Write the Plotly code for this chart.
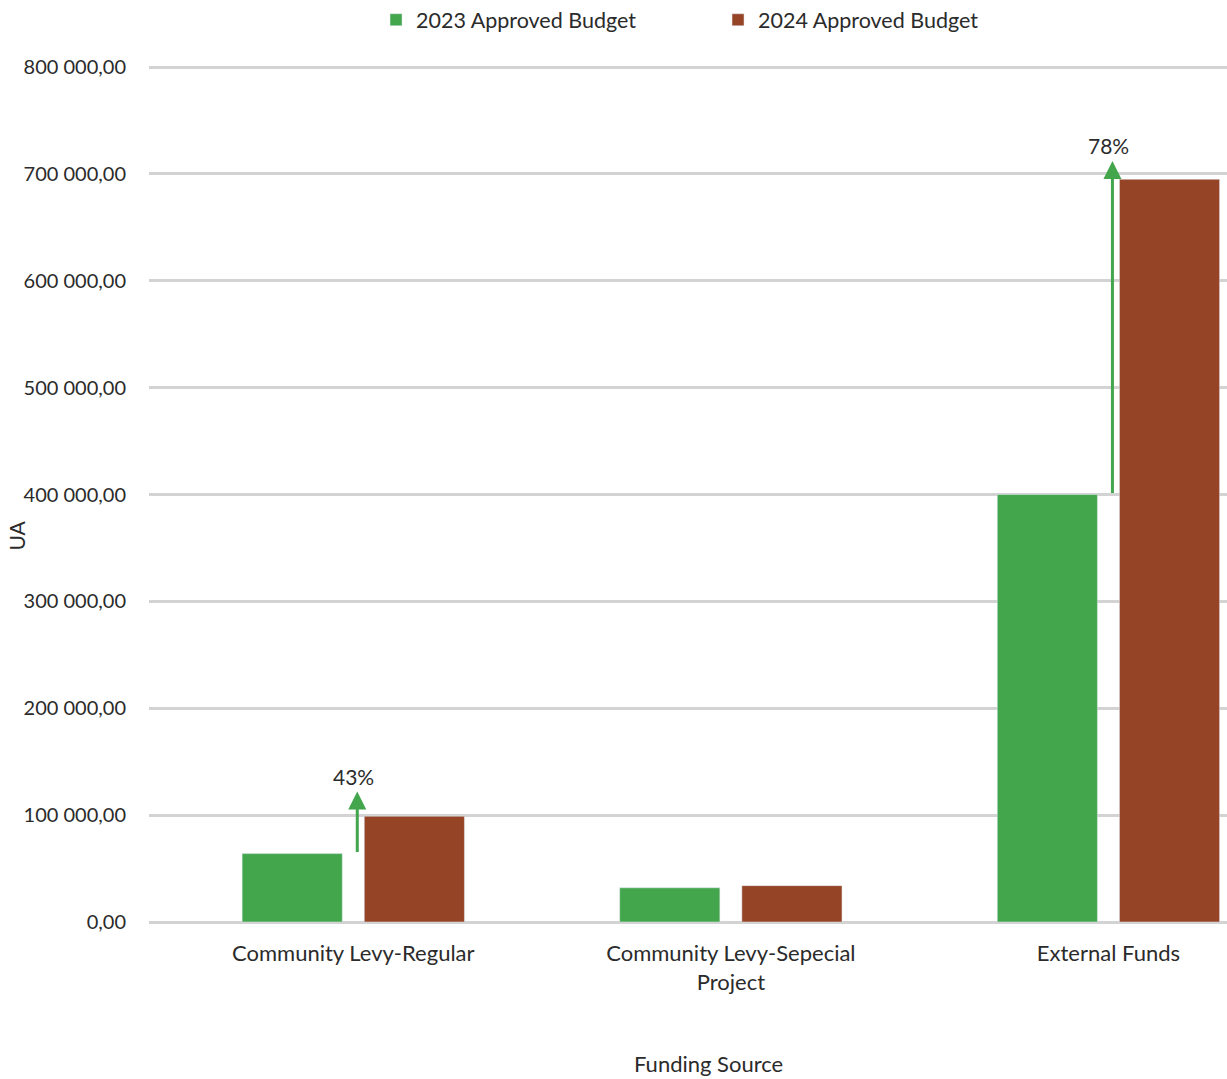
import plotly.graph_objects as go

# Budget by funding source (UA)
categories = ["Community Levy-Regular", "Community Levy-Sepecial<br>Project", "External Funds"]
budget_2023 = [64000, 32000, 400000]
budget_2024 = [99000, 34000, 695000]

# Year-on-year change markers: label and arrow tip value per category
change_labels = ["43%", None, "78%"]
change_tips = [122000, None, 712000]

green = "#43A54C"
brown = "#954426"
text_color = "#2b2b2b"
font_family = "Source Sans Pro, Lato, Noto Sans, sans-serif"

fig = go.Figure()
fig.add_trace(go.Bar(x=categories, y=budget_2023, name="2023 Approved Budget",
                     marker_color=green))
fig.add_trace(go.Bar(x=categories, y=budget_2024, name="2024 Approved Budget",
                     marker_color=brown))

for cat, base, tip, label in zip(categories, budget_2023, change_tips, change_labels):
    if label is None:
        continue
    fig.add_annotation(x=cat, y=tip, ax=cat, ay=base, xref="x", yref="y",
                       axref="x", ayref="y", text="", showarrow=True,
                       arrowhead=2, arrowsize=1.2, arrowwidth=3,
                       arrowcolor=green, xshift=4)
    fig.add_annotation(x=cat, y=tip, xref="x", yref="y", text=label,
                       showarrow=False, yanchor="bottom", yshift=1,
                       font=dict(size=21, color=text_color, family=font_family))

# axis titles
fig.add_annotation(text="UA", xref="paper", yref="paper", x=0, y=0.5,
                   xshift=-148, yshift=-42, textangle=-90, showarrow=False,
                   font=dict(size=21, color=text_color, family=font_family))
fig.add_annotation(text="Funding Source", xref="paper", yref="paper", x=0.5, y=0,
                   xshift=20, yshift=-141, yanchor="middle", showarrow=False,
                   font=dict(size=22, color=text_color, family=font_family))

fig.update_layout(
    width=1227, height=1079,
    margin=dict(l=149, r=0, t=66, b=157, autoexpand=False),
    paper_bgcolor="white", plot_bgcolor="white",
    barmode="group", bargap=0.353, bargroupgap=0.18,
    separators=", ",
    font=dict(family=font_family, size=20, color=text_color),
    legend=dict(orientation="h", x=0.2106, xanchor="left", y=1.054,
                yanchor="middle", font=dict(size=21.5),
                entrywidth=297, entrywidthmode="pixels"),
    showlegend=True,
)
fig.update_xaxes(range=[-0.541, 2.314], showgrid=False, showline=False,
                 ticks="", tickfont=dict(size=22), ticklabelstandoff=16)
fig.update_yaxes(range=[0, 801000], dtick=100000, tickformat=",.2f",
                 gridcolor="#d3d3d3", gridwidth=2.5, zeroline=True,
                 zerolinecolor="#d3d3d3", zerolinewidth=2.5,
                 ticklabelstandoff=22, tickfont=dict(size=20))

fig.write_html("out.html")
